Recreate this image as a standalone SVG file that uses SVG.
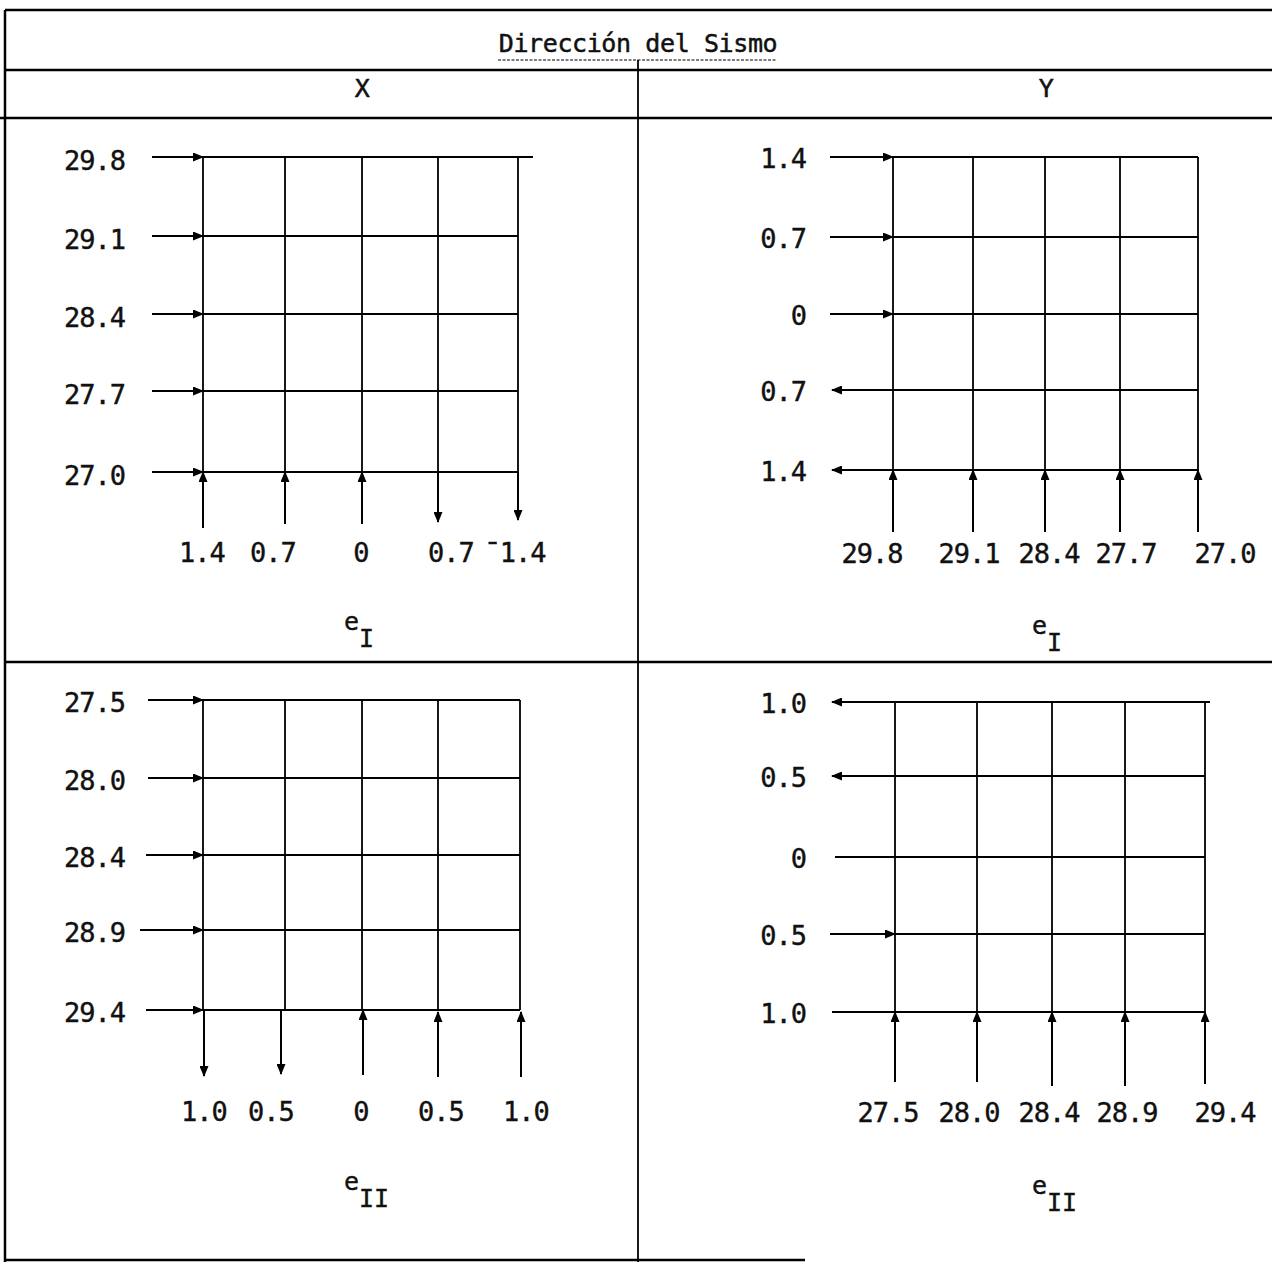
<svg xmlns="http://www.w3.org/2000/svg" width="1272" height="1264" viewBox="0 0 1272 1264">
<style>
.frame{stroke:#000;stroke-width:2.5;fill:none}
.grid{stroke:#000;stroke-width:1.8;fill:none}
.arr{stroke:#000;stroke-width:2;fill:none;marker-end:url(#ah)}
.stub{stroke:#000;stroke-width:1.8;fill:none}
text{font-family:"DejaVu Sans Mono","Liberation Mono",monospace;font-size:27px;fill:#111;stroke:#111;stroke-width:0.4;letter-spacing:-1px}
.l{text-anchor:end}
.c{text-anchor:middle}
.t{font-size:25px;letter-spacing:-0.4px;stroke-width:0.5}
.e{font-size:25px;letter-spacing:0}
</style>
<defs>
<marker id="ah" markerUnits="userSpaceOnUse" markerWidth="11" markerHeight="9" refX="10" refY="4.5" orient="auto">
<path d="M0,0 L11,4.5 L0,9 z" fill="#000"/>
</marker>
</defs>
<rect width="1272" height="1264" fill="#fff"/>
<g id="table-frame">
<line class="frame" x1="5" y1="10" x2="1272" y2="10"/>
<line class="frame" x1="5" y1="10" x2="5" y2="1262"/>
<line class="frame" x1="5" y1="70" x2="1272" y2="70"/>
<line class="frame" x1="0" y1="118" x2="1272" y2="118"/>
<line class="frame" x1="5" y1="662" x2="1272" y2="662"/>
<line class="grid" x1="638" y1="60" x2="638" y2="1262"/>
<line class="frame" x1="5" y1="1260" x2="805" y2="1260"/>
</g>
<g id="header">
<text class="c t" x="638" y="52">Dirección del Sismo</text>
<line x1="498" y1="60" x2="776" y2="60" stroke="#000" stroke-width="1.2" stroke-dasharray="3 1.5"/>
<text class="c t" x="362" y="97">X</text>
<text class="c t" x="1046" y="97">Y</text>
</g>
<g id="panel-x-e1">
<path class="grid" d="M203,157H533 M203,236H518 M203,314H518 M203,391H518 M203,472H518 M203,157V472 M285,157V472 M362,157V472 M438,157V472 M518,157V472"/>
<text class="l" x="125" y="170">29.8</text>
<text class="l" x="125" y="249">29.1</text>
<text class="l" x="125" y="327">28.4</text>
<text class="l" x="125" y="404">27.7</text>
<text class="l" x="125" y="485">27.0</text>
<text class="c" x="202" y="562">1.4</text>
<text class="c" x="273" y="562">0.7</text>
<text class="c" x="361" y="562">0</text>
<text class="c" x="451" y="562">0.7</text>
<text class="c" x="515" y="562">¯1.4</text>
<text class="e" x="344" y="630">e<tspan dy="17">I</tspan></text>
</g>
<g id="panel-y-e1">
<path class="grid" d="M893,157H1198 M893,237H1198 M893,314H1198 M893,390H1198 M893,470H1198 M893,157V470 M973,157V470 M1045,157V470 M1120,157V470 M1198,157V470"/>
<text class="l" x="806" y="168">1.4</text>
<text class="l" x="806" y="248">0.7</text>
<text class="l" x="806" y="325">0</text>
<text class="l" x="806" y="401">0.7</text>
<text class="l" x="806" y="481">1.4</text>
<text class="c" x="872" y="563">29.8</text>
<text class="c" x="969" y="563">29.1</text>
<text class="c" x="1049" y="563">28.4</text>
<text class="c" x="1126" y="563">27.7</text>
<text class="c" x="1225" y="563">27.0</text>
<text class="e" x="1032" y="634">e<tspan dy="17">I</tspan></text>
</g>
<g id="panel-x-e2">
<path class="grid" d="M203,700H520 M203,778H520 M203,855H520 M203,930H520 M203,1010H520 M203,700V1010 M285,700V1010 M362,700V1010 M438,700V1010 M520,700V1010"/>
<text class="l" x="125" y="712">27.5</text>
<text class="l" x="125" y="790">28.0</text>
<text class="l" x="125" y="867">28.4</text>
<text class="l" x="125" y="942">28.9</text>
<text class="l" x="125" y="1022">29.4</text>
<text class="c" x="204" y="1121">1.0</text>
<text class="c" x="271" y="1121">0.5</text>
<text class="c" x="361" y="1121">0</text>
<text class="c" x="441" y="1121">0.5</text>
<text class="c" x="526" y="1121">1.0</text>
<text class="e" x="344" y="1190">e<tspan dy="17">II</tspan></text>
</g>
<g id="panel-y-e2">
<path class="grid" d="M895,702H1210 M895,776H1205 M895,857H1205 M895,934H1205 M895,1012H1205 M895,702V1012 M977,702V1012 M1052,702V1012 M1125,702V1012 M1205,702V1012"/>
<text class="l" x="806" y="713">1.0</text>
<text class="l" x="806" y="787">0.5</text>
<text class="l" x="806" y="868">0</text>
<text class="l" x="806" y="945">0.5</text>
<text class="l" x="806" y="1023">1.0</text>
<text class="c" x="888" y="1122">27.5</text>
<text class="c" x="969" y="1122">28.0</text>
<text class="c" x="1049" y="1122">28.4</text>
<text class="c" x="1127" y="1122">28.9</text>
<text class="c" x="1225" y="1122">29.4</text>
<text class="e" x="1032" y="1194">e<tspan dy="17">II</tspan></text>
</g>
<g id="connectors">
<line class="arr" x1="152" y1="157" x2="203" y2="157"/>
<line class="arr" x1="152" y1="236" x2="203" y2="236"/>
<line class="arr" x1="152" y1="314" x2="203" y2="314"/>
<line class="arr" x1="152" y1="391" x2="203" y2="391"/>
<line class="arr" x1="152" y1="472" x2="203" y2="472"/>
<line class="arr" x1="203" y1="528" x2="203" y2="472"/>
<line class="arr" x1="285" y1="524" x2="285" y2="472"/>
<line class="arr" x1="362" y1="524" x2="362" y2="472"/>
<line class="arr" x1="438" y1="472" x2="438" y2="522"/>
<line class="arr" x1="518" y1="472" x2="518" y2="520"/>

<line class="arr" x1="830" y1="157" x2="893" y2="157"/>
<line class="arr" x1="830" y1="237" x2="893" y2="237"/>
<line class="arr" x1="830" y1="314" x2="893" y2="314"/>
<line class="arr" x1="893" y1="390" x2="832" y2="390"/>
<line class="arr" x1="893" y1="470" x2="832" y2="470"/>
<line class="arr" x1="893" y1="532" x2="893" y2="470"/>
<line class="arr" x1="973" y1="532" x2="973" y2="470"/>
<line class="arr" x1="1045" y1="532" x2="1045" y2="470"/>
<line class="arr" x1="1120" y1="532" x2="1120" y2="470"/>
<line class="arr" x1="1198" y1="532" x2="1198" y2="470"/>

<line class="arr" x1="148" y1="700" x2="203" y2="700"/>
<line class="arr" x1="148" y1="778" x2="203" y2="778"/>
<line class="arr" x1="146" y1="855" x2="203" y2="855"/>
<line class="arr" x1="140" y1="930" x2="203" y2="930"/>
<line class="arr" x1="146" y1="1010" x2="203" y2="1010"/>
<line class="arr" x1="204" y1="1010" x2="204" y2="1076"/>
<line class="arr" x1="281" y1="1010" x2="281" y2="1074"/>
<line class="arr" x1="363" y1="1075" x2="363" y2="1010"/>
<line class="arr" x1="438" y1="1077" x2="438" y2="1012"/>
<line class="arr" x1="521" y1="1077" x2="521" y2="1012"/>

<line class="arr" x1="895" y1="702" x2="832" y2="702"/>
<line class="arr" x1="895" y1="776" x2="832" y2="776"/>
<line class="stub" x1="835" y1="857" x2="895" y2="857"/>
<line class="arr" x1="830" y1="934" x2="895" y2="934"/>
<line class="stub" x1="832" y1="1012" x2="895" y2="1012"/>
<line class="arr" x1="895" y1="1082" x2="895" y2="1012"/>
<line class="arr" x1="977" y1="1082" x2="977" y2="1012"/>
<line class="arr" x1="1052" y1="1086" x2="1052" y2="1012"/>
<line class="arr" x1="1125" y1="1086" x2="1125" y2="1012"/>
<line class="arr" x1="1205" y1="1084" x2="1205" y2="1012"/>
</g>
</svg>
